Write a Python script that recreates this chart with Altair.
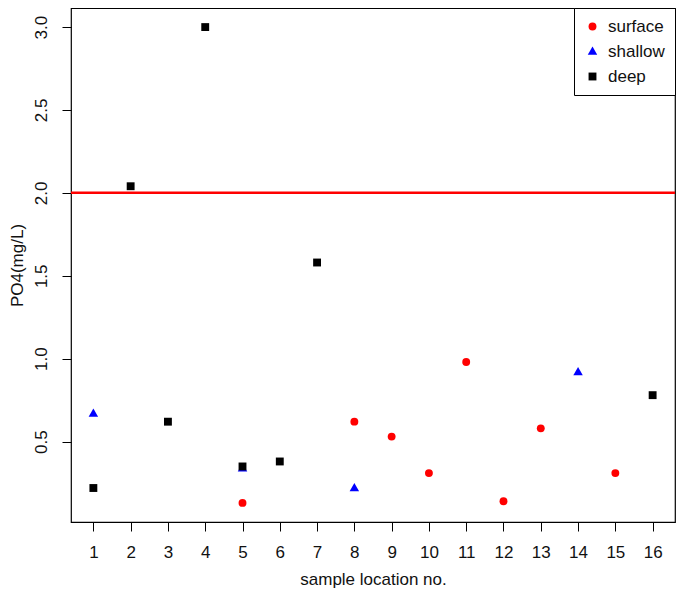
import altair as alt
import pandas as pd

# ---- data ----
surface_loc = [5, 8, 9, 10, 11, 12, 13, 15]
surface_val = [0.13, 0.62, 0.53, 0.31, 0.98, 0.14, 0.58, 0.31]
shallow_loc = [1, 5, 8, 14]
shallow_val = [0.67, 0.34, 0.22, 0.92]
deep_loc = [1, 2, 3, 4, 5, 6, 7, 16]
deep_val = [0.22, 2.04, 0.62, 3.00, 0.35, 0.38, 1.58, 0.78]
series_names = ["surface", "shallow", "deep"]
series_colors = ["#FF0000", "#0000FF", "#000000"]
series_shapes = ["circle", "M0,-1.25L1.2,0.85L-1.2,0.85Z", "square"]
threshold = [2.0]
x_ticks = list(range(1, 17))
y_ticks = [0.5, 1.0, 1.5, 2.0, 2.5, 3.0]

rows = []
for name, locs, vals in [("surface", surface_loc, surface_val),
                         ("shallow", shallow_loc, shallow_val),
                         ("deep", deep_loc, deep_val)]:
    for l, v in zip(locs, vals):
        rows.append({"loc": l, "po4": v, "depth": name})
df = pd.DataFrame(rows)
df["order"] = df["depth"].map({n: i for i, n in enumerate(series_names)})
thr = pd.DataFrame({"y": threshold})

FONT = "Liberation Sans"
H = 514
W = 604

x_scale = alt.Scale(domain=[0.4, 16.6], nice=False, zero=False)
y_scale = alt.Scale(domain=[0.015, 3.115], nice=False, zero=False)

x_axis = alt.Axis(values=x_ticks, title="sample location no.", grid=False,
                  domain=False, tickSize=9, tickColor="black", labelPadding=13,
                  labelFontSize=17, labelColor="#111111", labelFont=FONT,
                  titleFont=FONT, titleFontSize=17, titleFontWeight="normal",
                  titleColor="#111111", titleY=62, titleBaseline="alphabetic",
                  labelFlush=False, labelOverlap=False)
y_axis = alt.Axis(values=y_ticks, format=".1f", title="PO4(mg/L)", grid=False,
                  domain=False, tickSize=9, tickColor="black", labelPadding=21,
                  labelAngle=270, labelAlign="center", labelBaseline="middle",
                  labelFontSize=17, labelColor="#111111", labelFont=FONT,
                  titleFont=FONT, titleFontSize=17, titleFontWeight="normal",
                  titleColor="#111111", titleAngle=270, titleAlign="center",
                  titleBaseline="middle", titleX=-54, titleY=H / 2,
                  labelFlush=False, labelOverlap=False)

points = alt.Chart(df).mark_point(filled=True, size=62, opacity=1).encode(
    x=alt.X("loc:Q", scale=x_scale, axis=x_axis),
    y=alt.Y("po4:Q", scale=y_scale, axis=y_axis),
    color=alt.Color("depth:N",
                    scale=alt.Scale(domain=series_names, range=series_colors),
                    legend=alt.Legend(title=None)),
    shape=alt.Shape("depth:N",
                    scale=alt.Scale(domain=series_names, range=series_shapes),
                    legend=alt.Legend(title=None)),
    order=alt.Order("order:Q"),
)

rule = alt.Chart(thr).mark_rule(color="#FF0000", strokeWidth=2.5).encode(
    y=alt.Y("y:Q", scale=y_scale)
)

chart = (rule + points).properties(
    width=W, height=H,
    autosize=alt.AutoSizeParams(type="none"),
    padding={"left": 63, "top": 0, "right": 2, "bottom": 66},
).configure_view(
    stroke="black", strokeWidth=1.2
).configure_legend(
    orient="top-right", offset=0, strokeColor="black", fillColor="white",
    padding=10, labelFontSize=17, labelFont=FONT, labelColor="#111111",
    symbolSize=62, rowPadding=7, labelOffset=7, symbolStrokeWidth=0,
    cornerRadius=0
)

chart.save("out.html", embed_options={"renderer": "svg", "actions": False})
